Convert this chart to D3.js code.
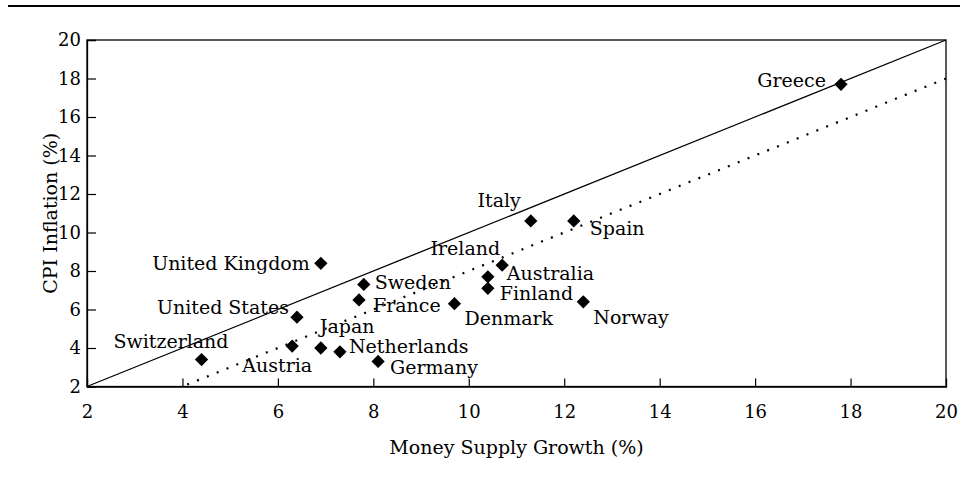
<!DOCTYPE html>
<html>
<head>
<meta charset="utf-8">
<script src="https://cdn.jsdelivr.net/npm/d3@7"></script>
<style>
  html, body { margin: 0; padding: 0; background: #fff; }
  svg { display: block; }
  text { font-family: "DejaVu Serif", "Liberation Serif", serif; fill: #000; }
</style>
</head>
<body>
<script>
// ---- data ----
const countries = ["Greece", "Italy", "Spain", "United Kingdom", "Sweden", "France",
  "United States", "Switzerland", "Austria", "Japan", "Netherlands", "Germany",
  "Denmark", "Ireland", "Australia", "Finland", "Norway"];
const moneyGrowth = [17.8, 11.3, 12.2, 6.9, 7.8, 7.7, 6.4, 4.4, 6.3, 6.9, 7.3, 8.1,
  9.7, 10.7, 10.4, 10.4, 12.4];
const cpiInflation = [17.7, 10.6, 10.6, 8.4, 7.3, 6.5, 5.6, 3.4, 4.1, 4.0, 3.8, 3.3,
  6.3, 8.3, 7.7, 7.1, 6.4];
const xTicks = [2, 4, 6, 8, 10, 12, 14, 16, 18, 20];
const yTicks = [2, 4, 6, 8, 10, 12, 14, 16, 18, 20];
const equalityLine = [[2, 2], [20, 20]];
const fitLine = [[4.1, 2.1], [20, 18]];
const xTitle = "Money Supply Growth (%)";
const yTitle = "CPI Inflation (%)";

// ---- label placement (layout only) ----
const labelPlace = {
  "Greece": [-15, 2.5, "end"],
  "Italy": [-10, -14, "end"],
  "Spain": [16, 14, "start"],
  "United Kingdom": [-11, 7, "end"],
  "Sweden": [11, 4.5, "start"],
  "France": [14, 12.5, "start"],
  "United States": [-8, -3, "end"],
  "Switzerland": [27, -12, "end"],
  "Austria": [-15, 25.5, "middle"],
  "Japan": [-1, -15, "start"],
  "Netherlands": [9, 1, "start"],
  "Germany": [12, 12.5, "start"],
  "Denmark": [10, 21, "start"],
  "Ireland": [-2, -10, "end"],
  "Australia": [19, 3, "start"],
  "Finland": [12, 11.5, "start"],
  "Norway": [10, 22, "start"]
};

const W = 960, H = 481;
const L = 87, R = 946, T = 40, B = 386.5;

const svg = d3.select("body").append("svg").attr("width", W).attr("height", H);

// header rule at top of page
svg.append("line").attr("x1", 8).attr("x2", W).attr("y1", 6).attr("y2", 6)
  .attr("stroke", "#000").attr("stroke-width", 2);

const x = d3.scaleLinear().domain([2, 20]).range([L, R]);
const y = d3.scaleLinear().domain([2, 20]).range([B, T]);

// frame
svg.append("rect").attr("x", L).attr("y", T).attr("width", R - L).attr("height", B - T)
  .attr("fill", "none").attr("stroke", "#000").attr("stroke-width", 1.3);

const xAxis = svg.append("g").attr("transform", `translate(0,${B})`)
  .call(d3.axisBottom(x).tickValues(xTicks).tickSize(-8).tickPadding(19).tickFormat(d3.format("d")));
const yAxis = svg.append("g").attr("transform", `translate(${L},0)`)
  .call(d3.axisLeft(y).tickValues(yTicks).tickSize(-9).tickPadding(6).tickFormat(d3.format("d")));
[xAxis, yAxis].forEach(g => {
  g.select(".domain").attr("stroke", "#000").attr("stroke-width", 1.3);
  g.selectAll(".tick line").attr("stroke", "#000").attr("stroke-width", 1.2);
  g.selectAll(".tick text").attr("font-family", "DejaVu Serif").attr("font-size", 18).attr("fill", "#000");
});
xAxis.selectAll(".tick").filter(d => d === 2 || d === 20).select("line").remove();
yAxis.selectAll(".tick").filter(d => d === 2 || d === 20).select("line").remove();

const line = d3.line().x(d => x(d[0])).y(d => y(d[1]));
svg.append("path").attr("d", line(equalityLine)).attr("fill", "none")
  .attr("stroke", "#000").attr("stroke-width", 1.3);
svg.append("path").attr("d", line(fitLine)).attr("fill", "none")
  .attr("stroke", "#000").attr("stroke-width", 2.2)
  .attr("stroke-dasharray", "2 8.6");

const pts = countries.map((c, i) => ({ c, mx: moneyGrowth[i], cpi: cpiInflation[i] }));

const diamond = d3.symbol().type(d3.symbolSquare).size(88);
svg.append("g").selectAll("path").data(pts).join("path")
  .attr("d", diamond)
  .attr("transform", d => `translate(${x(d.mx)},${y(d.cpi)}) rotate(45)`)
  .attr("fill", "#000");

svg.append("g").selectAll("text").data(pts).join("text")
  .attr("x", d => x(d.mx) + labelPlace[d.c][0])
  .attr("y", d => y(d.cpi) + labelPlace[d.c][1])
  .attr("text-anchor", d => labelPlace[d.c][2])
  .attr("font-size", 19)
  .text(d => d.c);

svg.append("text").attr("x", (L + R) / 2).attr("y", 454)
  .attr("text-anchor", "middle").attr("font-size", 19).text(xTitle);
svg.append("text").attr("transform", `translate(57,${(T + B) / 2}) rotate(-90)`)
  .attr("text-anchor", "middle").attr("font-size", 19).text(yTitle);
</script>
</body>
</html>
